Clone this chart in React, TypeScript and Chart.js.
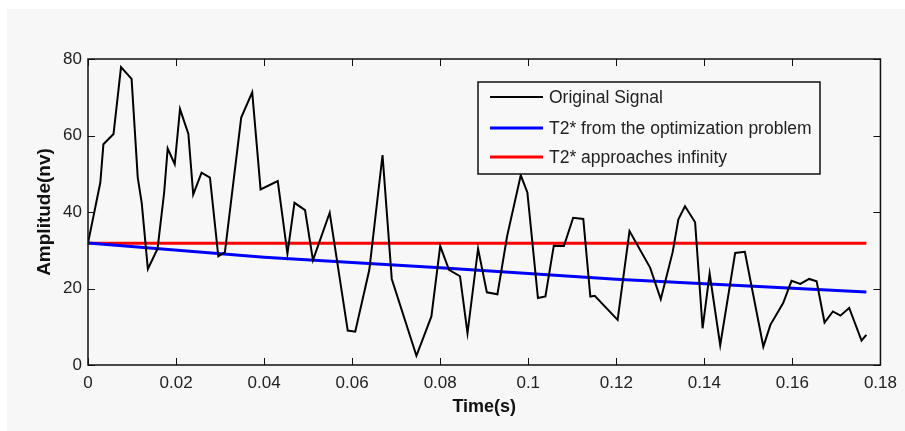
import React, { useEffect, useRef } from "react";
import { Chart, registerables } from "chart.js";

Chart.register(...registerables);

const timeS = [0, 0.0028, 0.0035, 0.0058, 0.0075, 0.0099, 0.0113, 0.0122, 0.0136, 0.0158, 0.0173, 0.0181, 0.0197, 0.0209, 0.0228, 0.0239, 0.0258, 0.0277, 0.0296, 0.0311, 0.0348, 0.0373, 0.0392, 0.0431, 0.0453, 0.0469, 0.0493, 0.0511, 0.0549, 0.059, 0.0607, 0.0639, 0.0669, 0.069, 0.0746, 0.078, 0.08, 0.082, 0.0845, 0.0862, 0.0886, 0.0906, 0.093, 0.0952, 0.0983, 0.0998, 0.1022, 0.1039, 0.1058, 0.1081, 0.1102, 0.1125, 0.1141, 0.1151, 0.1203, 0.123, 0.1277, 0.1301, 0.1328, 0.1341, 0.1356, 0.1379, 0.1396, 0.1412, 0.1436, 0.147, 0.1492, 0.1534, 0.155, 0.1579, 0.1598, 0.1618, 0.1638, 0.1655, 0.1673, 0.1692, 0.1709, 0.1729, 0.1757, 0.1768];
const originalSignal = [31.9, 47.7, 57.7, 60.4, 77.9, 74.8, 49.0, 42.4, 25.1, 30.4, 45.1, 56.6, 52.5, 66.9, 60.4, 44.6, 50.3, 49.0, 28.4, 29.5, 64.7, 71.3, 45.9, 48.1, 29.1, 42.4, 40.5, 27.4, 39.8, 9.0, 8.7, 24.9, 54.9, 22.5, 2.4, 12.7, 31.1, 24.9, 23.2, 8.3, 30.4, 19.0, 18.5, 33.7, 49.6, 45.1, 17.5, 17.9, 31.2, 31.1, 38.5, 38.2, 17.9, 18.1, 11.8, 35.0, 25.4, 17.2, 29.5, 38.1, 41.5, 37.3, 9.6, 23.9, 5.2, 29.3, 29.6, 4.8, 10.5, 16.2, 22.0, 21.2, 22.5, 21.9, 11.1, 14.0, 12.9, 14.9, 6.4, 7.9];

const optTime = [0, 0.04, 0.08, 0.12, 0.1768];
const optValues = [31.9, 28.2, 25.4, 22.4, 19.1];

const infTime = [0, 0.1768];
const infValues = [31.8, 31.8];

const seriesLabels = ["Original Signal", "T2* from the optimization problem", "T2* approaches infinity"];
const seriesColors = ["#000000", "#0000ff", "#ff0000"];

const xTickValues = [0, 0.02, 0.04, 0.06, 0.08, 0.1, 0.12, 0.14, 0.16, 0.18];
const xTickLabels = ["0", "0.02", "0.04", "0.06", "0.08", "0.1", "0.12", "0.14", "0.16", "0.18"];
const yTickValues = [0, 20, 40, 60, 80];
const yTickLabels = ["0", "20", "40", "60", "80"];

const xTitle = "Time(s)";
const yTitle = "Amplitude(nv)";

const FONT = "'Liberation Sans', Arial, Helvetica, sans-serif";

const toPoints = (xs: number[], ys: number[]) => xs.map((x, i) => ({ x, y: ys[i] }));

const framePlugin = {
  id: "matlabFrame",
  beforeDraw(chart: any) {
    const ctx = chart.ctx;
    ctx.save();
    ctx.fillStyle = "#ffffff";
    ctx.fillRect(0, 0, chart.width, chart.height);
    ctx.fillStyle = "#f7f7f7";
    ctx.fillRect(7, 9, chart.width - 7, chart.height - 9);
    ctx.restore();
  },
  afterDraw(chart: any) {
    const { ctx, chartArea: a, scales } = chart;
    ctx.save();
    ctx.strokeStyle = "#111111";
    ctx.lineWidth = 1.5;
    ctx.strokeRect(a.left, a.top, a.right - a.left, a.bottom - a.top);
    const tl = 7;
    ctx.beginPath();
    scales.x.ticks.forEach((t: any) => {
      const x = Math.round(scales.x.getPixelForValue(t.value)) + 0.5;
      ctx.moveTo(x, a.bottom);
      ctx.lineTo(x, a.bottom - tl);
      ctx.moveTo(x, a.top);
      ctx.lineTo(x, a.top + tl);
    });
    scales.y.ticks.forEach((t: any) => {
      const y = Math.round(scales.y.getPixelForValue(t.value)) + 0.5;
      ctx.moveTo(a.left, y);
      ctx.lineTo(a.left + tl, y);
      ctx.moveTo(a.right, y);
      ctx.lineTo(a.right - tl, y);
    });
    ctx.lineWidth = 1;
    ctx.stroke();

    // legend box
    const lx = 478, ly = 82, lw = 342, lh = 92;
    ctx.fillStyle = "#f8f8f8";
    ctx.fillRect(lx, ly, lw, lh);
    ctx.lineWidth = 1.5;
    ctx.strokeStyle = "#111111";
    ctx.strokeRect(lx, ly, lw, lh);
    const rowsY = [97, 128, 157];
    ctx.font = `17.5px ${FONT}`;
    ctx.textBaseline = "middle";
    ctx.textAlign = "left";
    chart.data.datasets.forEach((ds: any, i: number) => {
      ctx.beginPath();
      ctx.strokeStyle = ds.borderColor;
      ctx.lineWidth = i === 0 ? 2 : 3;
      ctx.moveTo(490, rowsY[i]);
      ctx.lineTo(543, rowsY[i]);
      ctx.stroke();
      ctx.fillStyle = "#222222";
      ctx.fillText(ds.label, 549, rowsY[i] + 1);
    });
    ctx.restore();
  },
};

export default function App() {
  const canvasRef = useRef<HTMLCanvasElement | null>(null);

  useEffect(() => {
    if (!canvasRef.current) return;
    const chart = new Chart(canvasRef.current, {
      type: "line",
      data: {
        datasets: [
          {
            label: seriesLabels[0],
            data: toPoints(timeS, originalSignal),
            borderColor: seriesColors[0],
            borderWidth: 2,
            pointRadius: 0,
            tension: 0,
          },
          {
            label: seriesLabels[1],
            data: toPoints(optTime, optValues),
            borderColor: seriesColors[1],
            borderWidth: 3,
            pointRadius: 0,
            tension: 0,
          },
          {
            label: seriesLabels[2],
            data: toPoints(infTime, infValues),
            borderColor: seriesColors[2],
            borderWidth: 3,
            pointRadius: 0,
            tension: 0,
          },
        ],
      },
      options: {
        responsive: false,
        animation: false,
        layout: { padding: { left: 0, top: 59, right: 22, bottom: 0 } },
        plugins: {
          legend: { display: false },
          tooltip: { enabled: false },
        },
        scales: {
          x: {
            type: "linear",
            min: 0,
            max: 0.18,
            grid: { display: false, drawTicks: false },
            border: { display: false },
            afterBuildTicks: (s: any) => {
              s.ticks = xTickValues.map((v) => ({ value: v }));
            },
            afterFit: (s: any) => {
              s.height = 66;
            },
            ticks: {
              padding: 8,
              color: "#222222",
              font: { family: FONT, size: 17 },
              maxRotation: 0,
              autoSkip: false,
              callback: (_v: any, i: number) => xTickLabels[i],
            },
            title: {
              display: true,
              text: xTitle,
              color: "#111111",
              font: { family: FONT, size: 18, weight: "bold" },
              padding: { top: 0, bottom: 13 },
            },
          },
          y: {
            type: "linear",
            min: 0,
            max: 80,
            grid: { display: false, drawTicks: false },
            border: { display: false },
            afterBuildTicks: (s: any) => {
              s.ticks = yTickValues.map((v) => ({ value: v }));
            },
            afterFit: (s: any) => {
              s.width = 88;
            },
            ticks: {
              padding: 6,
              color: "#222222",
              font: { family: FONT, size: 17 },
              autoSkip: false,
              callback: (_v: any, i: number) => yTickLabels[i],
            },
            title: {
              display: true,
              text: yTitle,
              color: "#111111",
              font: { family: FONT, size: 19, weight: "bold" },
              padding: { top: 33, bottom: 0 },
            },
          },
        },
      },
      plugins: [framePlugin],
    } as any);
    return () => chart.destroy();
  }, []);

  return (
    <div style={{ position: "absolute", left: 0, top: 0, width: 905, height: 431 }}>
      <canvas ref={canvasRef} width={905} height={431} style={{ display: "block", width: 905, height: 431 }} />
    </div>
  );
}
